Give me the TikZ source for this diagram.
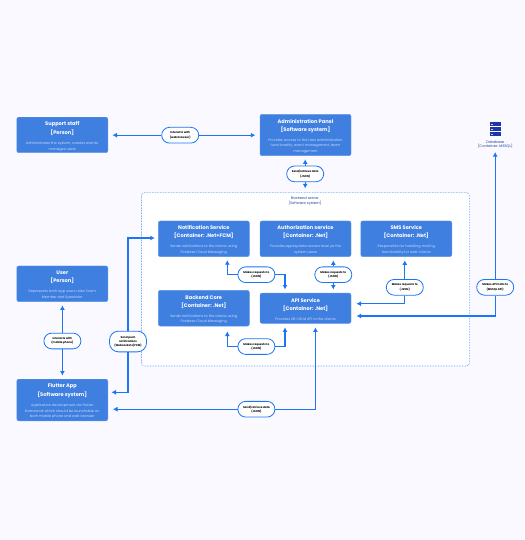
\documentclass[tikz,border=0pt]{standalone}
\usepackage{fontspec}
\setmainfont{Poppins}
\usetikzlibrary{arrows.meta}
\definecolor{pagebg}{HTML}{F9F9FF}
\definecolor{boxfill}{HTML}{3F7FE0}
\definecolor{boxedge}{HTML}{5C94E8}
\definecolor{linec}{HTML}{1B75F5}
\definecolor{dotc}{HTML}{3F8CF5}
\definecolor{darkt}{HTML}{24438F}
\definecolor{bodyt}{HTML}{C9DBF8}
\newcommand{\ttl}[1]{{\fontsize{5.1}{5.5}\selectfont\bfseries\color{white}#1}}
\newcommand{\ttlf}[1]{\rule{0pt}{6.2pt}\ttl{#1}}
\newcommand{\bdy}[1]{{\fontsize{3.5}{5.5}\selectfont\color{bodyt}#1}}
\tikzset{
  box/.style={draw=boxedge,line width=.4,fill=boxfill,rounded corners=2,minimum width=91,inner sep=0,align=center,font=\fontsize{5}{5.5}\selectfont},
  pill/.style={draw=linec,line width=.8,fill=white,rounded corners=7.8,minimum width=37,minimum height=15.7,inner sep=0,align=center,font=\fontsize{2.75}{4.2}\selectfont\bfseries,text=black},
  pilltall/.style={pill,rounded corners=9,minimum height=20.7},
  conn/.style={draw=linec,line width=1.05,-{Latex[length=4.5,width=5]},shorten >=3.5},
  back/.style={draw=dotc,densely dotted,line width=.6,fill=white,rounded corners=3,minimum width=327.8,minimum height=173.3,inner sep=0},
  dbt/.style={align=center,inner sep=0,font=\fontsize{3.6}{4.4}\selectfont,text=darkt},
}
\begin{document}
\begin{tikzpicture}[x=1pt,y=-1pt]
\useasboundingbox (0,0) rectangle (524,540);
\fill[pagebg] (0,0) rectangle (524,540);
\node[back] (backend) at (305.4,279.3) {};
\node[dbt] (backendlabel) at (305,201.3) {Backend server\\{}[Software system]};

\node[box,minimum height=35.5] (support) at (62.3,135) {\ttlf{Support staff}\\[2.5pt]\ttl{[Person]}\\[4.4pt]\bdy{Administrates the system, creates events,}\\\bdy{manages users}};
\node[box,minimum height=41.4] (admin) at (305.5,135) {\ttlf{Administration Panel}\\[2.5pt]\ttl{[Software system]}\\[4.4pt]\bdy{Provides access to the User administration}\\\bdy{functionality, event management, team}\\\bdy{management}};
\node[box,minimum height=35.7] (notif) at (203.8,238.8) {\ttlf{Notification Service}\\[2.5pt]\ttl{[Container: .Net+FCM]}\\[4.4pt]\bdy{Sends notifications to the clients using}\\\bdy{Firebase Cloud Messaging}};
\node[box,minimum height=35.7] (auth) at (305.5,238.8) {\ttlf{Authorization service}\\[2.5pt]\ttl{[Container: .Net]}\\[4.4pt]\bdy{Provides appropriate access level ya the}\\\bdy{system users}};
\node[box,minimum height=35.7] (sms) at (406.3,238.8) {\ttlf{SMS Service}\\[2.5pt]\ttl{[Container: .Net]}\\[4.4pt]\bdy{Responsible for handling mailing}\\\bdy{functionality for web-clients}};
\node[box,minimum height=35.7] (user) at (62.3,283.8) {\ttlf{User}\\[2.5pt]\ttl{[Person]}\\[4.4pt]\bdy{Represents both app users roles Team}\\\bdy{Member and Spectator}};
\node[box,minimum height=35.7] (core) at (203.8,308.2) {\ttlf{Backend Core}\\[2.5pt]\ttl{[Container: .Net]}\\[4.4pt]\bdy{Sends notifications to the clients using}\\\bdy{Firebase Cloud Messaging}};
\node[box,minimum height=30.3] (api) at (305.5,308.2) {\ttlf{API Service}\\[2.5pt]\ttl{[Container: .Net]}\\[4.4pt]\bdy{Provides DB CRUd API to the clients}};
\node[box,minimum height=41.6] (flutter) at (62.3,400) {\ttlf{Flutter App}\\[2.5pt]\ttl{[Software system]}\\[4.4pt]\bdy{Application development via Flutter}\\\bdy{framework which should be launchable on}\\\bdy{both mobile phone and web browser}};

% database
\node[dbt] (db) at (495.3,144.5) {Database\\{}[Container: MSSQL]};
\foreach \yy in {122.2,127.2,132.2}{
  \fill[darkt!80!blue] (490,\yy) rectangle (501,\yy+4.1);
  \fill[white!80!blue] (491.4,\yy+1.5) rectangle (492.6,\yy+2.6);
}

% pills
\node[pill] (pweb) at (180.2,135.2) {Interacts with\\(web browser)};
\node[pill] (padm) at (305.2,173.9) {Send/retrieve data\\(JSON)};
\node[pill] (pn) at (256.4,274.7) {Makes requests to\\(JSON)};
\node[pill] (pa) at (333.3,274.7) {Makes requests to\\(JSON)};
\node[pill] (ps) at (404.8,287.3) {Makes requests to\\(JSON)};
\node[pill] (pd) at (495.2,287.3) {Makes API Calls to\\(MSSQL API)};
\node[pill] (pc) at (256.4,346.5) {Makes requests to\\(JSON)};
\node[pill] (pf) at (256.4,409.2) {Send/retrieve data\\(JSON)};
\node[pill] (pu) at (62.4,341) {Interacts with\\(mobile phone)};
\node[pilltall] (pp) at (128,341.5) {Send push\\notifications\\(Websockets/FCM)};

% anchors on box edges
\coordinate (notifin) at (227.3,256.7);
\coordinate (apiNl) at (285,293);
\coordinate (apiNr) at (333.3,293);
\coordinate (apiR1) at (351,303.7);
\coordinate (apiR2) at (351,316);
\coordinate (coreS) at (227.3,326);
\coordinate (apiSl) at (285,323.4);
\coordinate (apiSr) at (315.4,323.4);
\coordinate (flutR1) at (108,392.3);
\coordinate (flutR2) at (108,409.2);
\coordinate (notifL) at (158.3,238);
\coordinate (ppbend) at (128,238);

\begin{scope}[every path/.append style={conn}]
\draw[shorten >=4.5] (pweb.west) -- (support.east |- pweb.west);
\draw[shorten >=4.5] (pweb.east) -- (admin.west |- pweb.east);
\draw (padm.north) -- (admin.south -| padm.north);
\draw[shorten >=4] (padm.south) -- (backend.north -| padm.south);
\draw (pu.north) -- (user.south -| pu.north);
\draw (pu.south) -- (flutter.north -| pu.south);
\draw (pp.north) -- (ppbend) -- (notifL);
\draw (pp.south) |- (flutR1);
\draw (pn.west) -| (notifin);
\draw (pn.east) -| (apiNl);
\draw (pa.north) -- (auth.south -| pa.north);
\draw (pa.south) -- (apiNr);
\draw (ps.north) -- (sms.south -| ps.north);
\draw[shorten >=5.5] (ps.south) |- (apiR1);
\draw (pd.north) -- (db.south -| pd.north);
\draw[shorten >=5.5] (pd.south) |- (apiR2);
\draw[shorten >=5.5] (pc.west) -| (coreS);
\draw[shorten >=4] (pc.east) -| (apiSl);
\draw[shorten >=4] (pf.east) -| (apiSr);
\draw[shorten >=5] (pf.west) -- (flutR2);
\end{scope}
\end{tikzpicture}
\end{document}
